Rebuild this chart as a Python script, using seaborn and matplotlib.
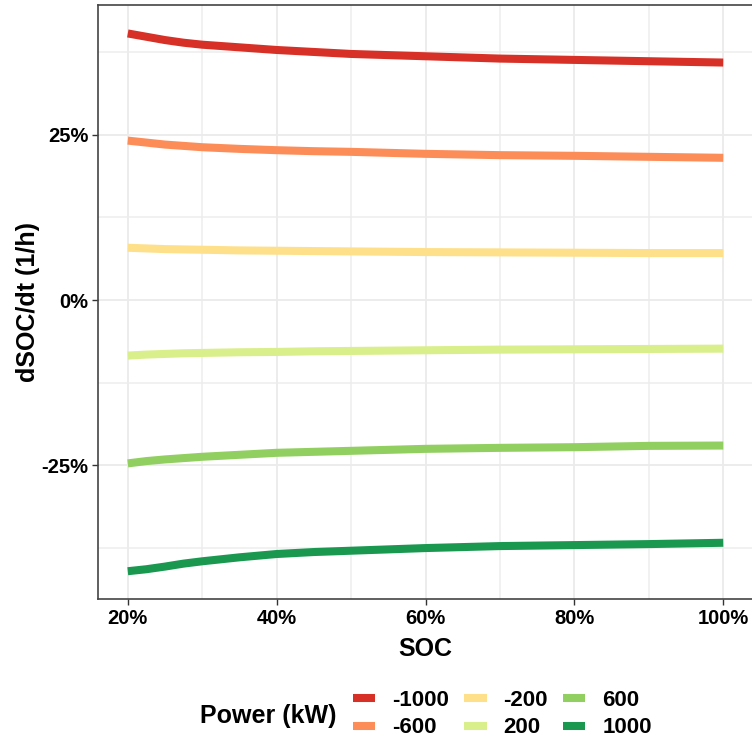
import matplotlib
matplotlib.use("Agg")
import matplotlib.pyplot as plt
from matplotlib.lines import Line2D
from matplotlib.ticker import FixedLocator, FuncFormatter
import seaborn as sns
import pandas as pd

soc = [20, 22.5, 25, 27.5, 30, 35, 40, 45, 50, 60, 70, 80, 90, 100]
powers = ["-1000", "-600", "-200", "200", "600", "1000"]
rate_m1000 = [40.3, 39.8, 39.3, 38.9, 38.6, 38.2, 37.8, 37.5, 37.2, 36.85, 36.5, 36.3, 36.1, 35.9]
rate_m600 = [24.1, 23.8, 23.5, 23.3, 23.1, 22.85, 22.65, 22.5, 22.4, 22.1, 21.9, 21.8, 21.65, 21.5]
rate_m200 = [7.9, 7.8, 7.7, 7.65, 7.6, 7.5, 7.45, 7.4, 7.35, 7.25, 7.2, 7.15, 7.1, 7.1]
rate_p200 = [-8.4, -8.25, -8.15, -8.05, -8.0, -7.9, -7.85, -7.75, -7.7, -7.6, -7.5, -7.45, -7.4, -7.35]
rate_p600 = [-24.7, -24.35, -24.1, -23.9, -23.7, -23.4, -23.1, -22.95, -22.8, -22.5, -22.35, -22.25, -22.05, -22.0]
rate_p1000 = [-41.0, -40.7, -40.3, -39.85, -39.5, -38.9, -38.4, -38.1, -37.9, -37.5, -37.2, -37.05, -36.9, -36.7]
colors = ["#d73027", "#fc8d59", "#fee08b", "#d9ef8b", "#91cf60", "#1a9850"]

series = [rate_m1000, rate_m600, rate_m200, rate_p200, rate_p600, rate_p1000]
rows = []
for p, vals in zip(powers, series):
    for s, v in zip(soc, vals):
        rows.append({"SOC": s, "rate": v, "Power": p})
df = pd.DataFrame(rows)

sns.set_theme(style="white")
plt.rcParams["font.family"] = ["Liberation Sans", "DejaVu Sans"]
plt.rcParams["text.color"] = "black"
plt.rcParams["axes.labelcolor"] = "black"

fig = plt.figure(figsize=(7.52, 7.40), dpi=100)
ax = fig.add_axes([98 / 752, 141 / 740, 655 / 752, 594 / 740])

sns.lineplot(data=df, x="SOC", y="rate", hue="Power", hue_order=powers,
             palette=colors, linewidth=5.8, ax=ax, legend=False,
             solid_capstyle="butt")

ax.set_xlim(16, 104)
ax.set_ylim(-45.2, 44.6)
ax.xaxis.set_major_locator(FixedLocator([20, 40, 60, 80, 100]))
ax.xaxis.set_minor_locator(FixedLocator([30, 50, 70, 90]))
ax.yaxis.set_major_locator(FixedLocator([-25, 0, 25]))
ax.yaxis.set_minor_locator(FixedLocator([-37.5, -12.5, 12.5, 37.5]))
pct = FuncFormatter(lambda v, _: f"{v:.0f}%")
ax.xaxis.set_major_formatter(pct)
ax.yaxis.set_major_formatter(pct)

ax.grid(True, which="major", color="#ebebeb", linewidth=1.3)
ax.grid(True, which="minor", color="#ededed", linewidth=1.1)
ax.set_axisbelow(True)

for side in ["left", "bottom", "top", "right"]:
    ax.spines[side].set_visible(True)
    ax.spines[side].set_color("#444444")
    ax.spines[side].set_linewidth(1.2)

ax.tick_params(axis="both", which="major", direction="out", length=4, width=1,
               color="#333333", labelsize=14.5, labelcolor="black", pad=3,
               bottom=True, left=True)
ax.tick_params(axis="both", which="minor", length=0)
for lab in ax.get_xticklabels() + ax.get_yticklabels():
    lab.set_fontweight("bold")

ax.set_xlabel("SOC", fontsize=18, fontweight="bold", labelpad=7, color="black")
ax.set_ylabel("dSOC/dt (1/h)", fontsize=18, fontweight="bold", labelpad=1, color="black")

handles = [Line2D([0], [0], color=c, linewidth=5.8, solid_capstyle="butt") for c in colors]
leg = fig.legend(handles, powers, ncol=3, loc="center left",
                 bbox_to_anchor=(353 / 752, 1 - 714 / 740), frameon=False,
                 borderpad=0, borderaxespad=0,
                 prop={"size": 16, "weight": "bold"}, handlelength=1.0,
                 handletextpad=0.75, columnspacing=0.7, labelspacing=0.3)
for t in leg.get_texts():
    t.set_color("black")
fig.text(200 / 752, 1 - 716 / 740, "Power (kW)", fontsize=18, fontweight="bold",
         ha="left", va="center", color="black")

fig.savefig("out.png", dpi=100)
